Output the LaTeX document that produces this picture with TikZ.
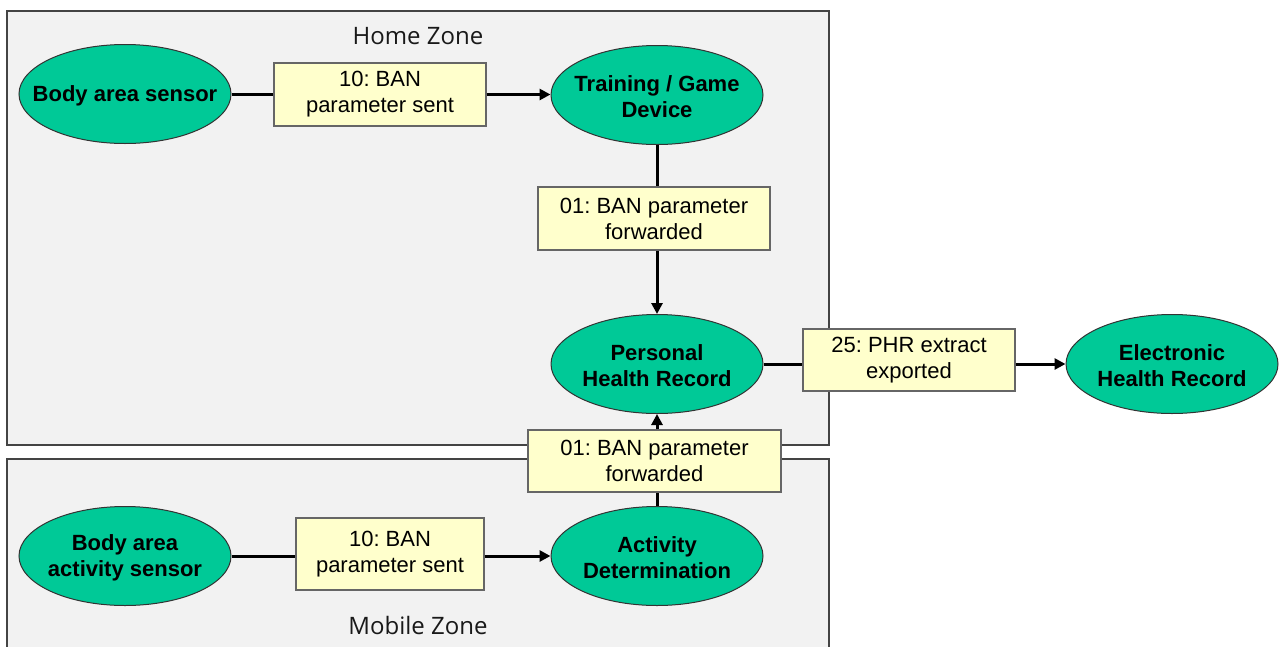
\documentclass[tikz,border=0pt]{standalone}
\usepackage{fontspec}
\setmainfont{Liberation Sans}
\newfontfamily\zonefont{Open Sans}
\usetikzlibrary{shapes.geometric,arrows.meta}
\frenchspacing

\definecolor{zonefill}{HTML}{F2F2F2}
\definecolor{zoneline}{HTML}{444444}
\definecolor{actorfill}{RGB}{0,201,151}
\definecolor{actorline}{HTML}{333333}
\definecolor{msgfill}{HTML}{FFFFCC}
\definecolor{msgline}{HTML}{666666}

\newcommand\fRRsize{\fontsize{22}{26}\selectfont}
\tikzset{
  zone/.style={fill=zonefill, draw=zoneline, line width=1.2pt},
  zonelabel/.style={font=\zonefont\fontsize{24}{28}\selectfont, text=black!90},
  % fixed-size ellipse; its text is set as a centred label
  actor/.style={ellipse, fill=actorfill, draw=actorline, line width=1pt,
    minimum width=212pt, minimum height=99pt, inner sep=0pt,
    label={[align=center, inner sep=0pt, yshift=-2pt,
            font=\bfseries\fRRsize]center:#1}},
  msg/.style={rectangle, fill=msgfill, draw=msgline, line width=1.2pt,
    inner sep=0pt, align=center, font=\fRRsize},
  link/.style={line width=3pt, black},
  flow/.style={link, -{Triangle[length=11pt,width=11pt]}}
}

\begin{document}
\begin{tikzpicture}[x=1pt,y=-1pt]
\useasboundingbox (0,0) rectangle (1285,646);
\fill[white] (0,0) rectangle (1285,646);

% zones
\begin{scope}
  \clip (0,0) rectangle (1285,646);
  \draw[zone] (7,11) rectangle (829,445);
  \draw[zone] (7,459) rectangle (829,680);
\end{scope}
\node[zonelabel] (homelbl) at (418,36) {Home Zone};
\node[zonelabel] (mobilelbl) at (418,625) {Mobile Zone};

% actors
\node[actor={Body area sensor}] (bas) at (125,94) {};
\node[actor={Training / Game\\Device}] (tgd) at (657,95) {};
\node[actor={Personal\\Health Record}] (phr) at (657,364) {};
\node[actor={Electronic\\Health Record}] (ehr) at (1172,364) {};
\node[actor={Body area\\activity sensor}] (baas) at (125,556) {};
\node[actor={Activity\\Determination}] (adet) at (657,556) {};

% messages
\node[msg, minimum width=212pt, minimum height=63pt] (m1) at (380,94.5) {10: BAN\\parameter sent};
\node[msg, minimum width=232pt, minimum height=63pt] (m2) at (654,218.5) {01: BAN parameter\\forwarded};
\node[msg, minimum width=212pt, minimum height=62pt] (m3) at (909,360) {25: PHR extract\\exported};
\node[msg, minimum width=253pt, minimum height=62pt] (m4) at (654.5,461) {01: BAN parameter\\forwarded};
\node[msg, minimum width=188pt, minimum height=72pt] (m5) at (390,554) {10: BAN\\parameter sent};

% connectors
\draw[link] (bas.east) -- (bas.east -| m1.west);
\draw[flow] (m1.east) -- (m1.east -| tgd.west);
\draw[link] (tgd.south) -- (tgd.south |- m2.north);
\draw[flow] (tgd.south |- m2.south) -- (phr.north);
\draw[link] (phr.east) -- (phr.east -| m3.west);
\draw[flow] (phr.east -| m3.east) -- (ehr.west);
\draw[link] (adet.north) -- (adet.north |- m4.south);
\draw[flow] (adet.north |- m4.north) -- (phr.south);
\draw[link] (baas.east) -- (baas.east -| m5.west);
\draw[flow] (baas.east -| m5.east) -- (adet.west);
\end{tikzpicture}
\end{document}
